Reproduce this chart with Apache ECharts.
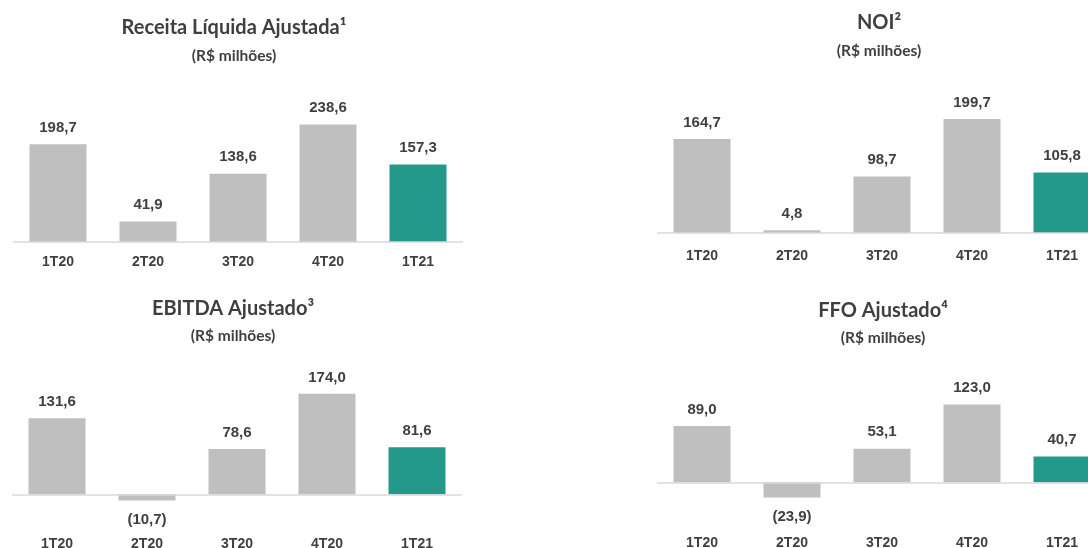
<!DOCTYPE html>
<html>
<head>
<meta charset="utf-8">
<script src="https://cdn.jsdelivr.net/npm/echarts@6/dist/echarts.min.js"></script>
<style>
  html, body { margin: 0; padding: 0; background: #fff; }
  #chart { width: 1088px; height: 548px; }
</style>
</head>
<body>
<div id="chart"></div>
<script>
// 数据
const categories = ["1T20", "2T20", "3T20", "4T20", "1T21"];
const receitaValues = [198.7, 41.9, 138.6, 238.6, 157.3];
const noiValues = [164.7, 4.8, 98.7, 199.7, 105.8];
const ebitdaValues = [131.6, -10.7, 78.6, 174.0, 81.6];
const ffoValues = [89.0, -23.9, 53.1, 123.0, 40.7];

const titles = ["Receita Líquida Ajustada¹", "NOI²", "EBITDA Ajustado³", "FFO Ajustado⁴"];
const subtitle = "(R$ milhões)";

const GREY = "#BFBFBF";
const GREEN = "#23998B";
const TEXT = "#3F3F3F";
const TITLE_FONT = "Lato, 'Liberation Sans', sans-serif";
const NUM_FONT = "'Liberation Sans', Arial, sans-serif";

// 每个面板的布局
const panels = [
  { values: receitaValues, grid: { left: 13, top: 119, width: 450, height: 123 }, min: 0, max: 250, margin: 13, cx: 234, ty: 28, sy: 56 },
  { values: noiValues, grid: { left: 657, top: 113, width: 450, height: 120 }, min: 0, max: 210, margin: 16, cx: 879, ty: 23, sy: 51 },
  { values: ebitdaValues, grid: { left: 12, top: 390.4, width: 450, height: 138.5 }, min: -60, max: 180, margin: 8, cx: 233, ty: 309, sy: 336 },
  { values: ffoValues, grid: { left: 657, top: 400, width: 450, height: 120.3 }, min: -60, max: 130, margin: 16, cx: 883, ty: 311, sy: 338 }
];

const fmt = (v) => {
  const s = Math.abs(v).toFixed(1).replace(".", ",");
  return v < 0 ? "(" + s + ")" : s;
};

const chart = echarts.init(document.getElementById("chart"));

const graphic = [];
panels.forEach((p, i) => {
  graphic.push({
    type: "text",
    style: { text: titles[i], fill: TEXT, font: "bold 20px " + TITLE_FONT, textAlign: "center", textVerticalAlign: "middle" },
    x: p.cx, y: p.ty
  });
  graphic.push({
    type: "text",
    style: { text: subtitle, fill: TEXT, font: "bold 15.5px " + TITLE_FONT, textAlign: "center", textVerticalAlign: "middle" },
    x: p.cx, y: p.sy
  });
});

chart.setOption({
  animation: false,
  backgroundColor: "#fff",
  graphic: graphic,
  grid: panels.map(p => Object.assign({ outerBoundsMode: "none", containLabel: false }, p.grid)),
  xAxis: panels.map((p, i) => ({
    type: "category",
    gridIndex: i,
    data: categories,
    axisLine: { show: false, onZero: false },
    axisTick: { show: false },
    axisLabel: { color: TEXT, fontSize: 14, fontWeight: "bold", fontFamily: NUM_FONT, margin: p.margin }
  })),
  yAxis: panels.map((p, i) => ({
    type: "value",
    gridIndex: i,
    min: p.min,
    max: p.max,
    show: false,
    splitLine: { show: false }
  })),
  series: panels.map((p, i) => ({
    type: "bar",
    xAxisIndex: i,
    yAxisIndex: i,
    barWidth: 57,
    data: p.values.map(v => v < 0
      ? { value: v, label: { position: "bottom", distance: 12 } }
      : v),
    itemStyle: { color: (d) => d.dataIndex === categories.length - 1 ? GREEN : GREY },
    label: {
      show: true,
      position: "top",
      distance: 9,
      color: TEXT,
      fontSize: 15,
      fontWeight: "bold",
      fontFamily: NUM_FONT,
      formatter: (d) => fmt(d.value)
    },
    markLine: {
      silent: true,
      symbol: "none",
      label: { show: false },
      lineStyle: { color: "#D9D9D9", width: 1.5, type: "solid" },
      data: [{ yAxis: 0 }]
    }
  }))
});
</script>
</body>
</html>
